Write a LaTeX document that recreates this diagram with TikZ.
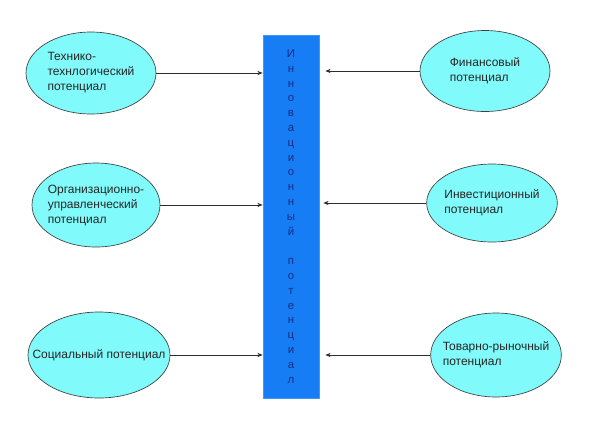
\documentclass[tikz,border=0pt]{standalone}
\usepackage{fontspec}
\setmainfont{Liberation Sans}
\usetikzlibrary{shapes.geometric,arrows.meta}
\definecolor{ellfill}{RGB}{128,250,250}
\definecolor{boxfill}{RGB}{22,125,245}
\definecolor{boxtext}{RGB}{25,45,130}
\definecolor{arrcol}{RGB}{45,45,45}
\begin{document}
\begin{tikzpicture}[x=0.75pt,y=-0.75pt,
  ell/.style={ellipse,draw=black!75,line width=0.5pt,fill=ellfill,inner sep=0pt,
    minimum width=97.5pt,minimum height=61.5pt},
  etext/.style={align=left,inner sep=0pt,font=\fontsize{9}{11.25}\selectfont,text=black!85},
  arr/.style={draw=arrcol,line width=0.6pt,-{Stealth[length=4pt,width=3.2pt]}}]
\useasboundingbox (0,0) rectangle (616,433);
\node[draw=boxfill!80!white,fill=boxfill,line width=0.5pt,minimum width=42pt,minimum height=272.25pt,inner sep=0pt] (box) at (291,216.5) {};
\node[align=center,text=boxtext,font=\fontsize{8.6}{11.1}\selectfont] (vt) at (291,216.5)
 {И\\н\\н\\о\\в\\а\\ц\\и\\о\\н\\н\\ы\\й\\[11.1pt]п\\о\\т\\е\\н\\ц\\и\\а\\л};
\node[ell] (tl) at (91,73) {};
\node[etext] (tlt) at (tl.center) {Технико-\\технлогический\\потенциал};
\node[ell,minimum width=96pt,minimum height=63pt] (ml) at (96,205) {};
\node[etext] (mlt) at (ml.center) {Организационно-\\управленческий\\потенциал};
\node[ell,minimum width=106.5pt,minimum height=64.5pt] (bl) at (99,355) {};
\node[etext] (blt) at (bl.center) {Социальный потенциал};
\node[ell,minimum height=60.75pt] (tr) at (485,71) {};
\node[etext] (trt) at (tr.center) {Финансовый\\потенциал};
\node[ell,minimum width=98pt,minimum height=58.5pt] (mr) at (492,203) {};
\node[etext] (mrt) at (mr.center) {Инвестиционный\\потенциал};
\node[ell,minimum width=98pt,minimum height=63pt] (br) at (496,355) {};
\node[etext] (brt) at (br.center) {Товарно-рыночный\\потенциал};
\draw[arr] (tl.east) -- (tl.east -| box.west);
\draw[arr] (ml.east) -- (ml.east -| box.west);
\draw[arr] (bl.east) -- (bl.east -| box.west);
\draw[arr,shorten >=4.5pt] (tr.west) -- (tr.west -| box.east);
\draw[arr,shorten >=3pt] (mr.west) -- (mr.west -| box.east);
\draw[arr,shorten >=4.5pt] (br.west) -- (br.west -| box.east);
\end{tikzpicture}
\end{document}
